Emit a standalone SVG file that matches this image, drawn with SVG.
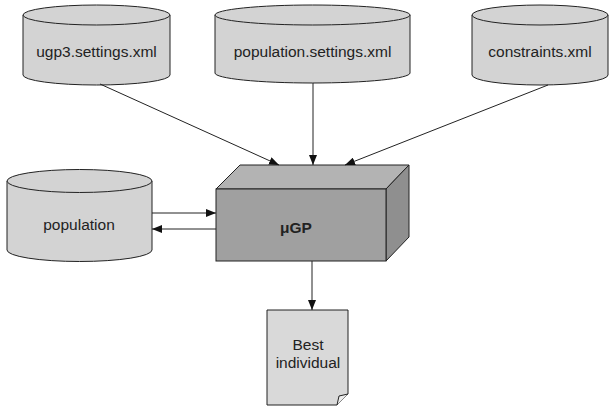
<svg xmlns="http://www.w3.org/2000/svg" width="610" height="408" viewBox="0 0 610 408">
  <defs>
    <style>
      .db { fill: #d3d3d3; stroke: #222; stroke-width: 1; }
      .lbl { font-family: "Liberation Sans", Arial, sans-serif; font-size: 15.5px; fill: #222; text-anchor: middle; }
      .edge { stroke: #222; stroke-width: 1; fill: none; marker-end: url(#arrow); }
    </style>
    <marker id="arrow" viewBox="0 0 10 8" refX="10" refY="4" markerWidth="10" markerHeight="8" markerUnits="userSpaceOnUse" orient="auto">
      <path d="M0,0 L10,4 L0,8 Z" fill="#111"/>
    </marker>
  </defs>
  <rect width="610" height="408" fill="#fff"/>

  <!-- settings store: ugp3.settings.xml -->
  <g id="ugp3-settings">
    <path class="db" d="M23,15 A73.5,10 0 0 1 170,15 L170,75 A73.5,10 0 0 1 23,75 Z"/>
    <path class="db" fill="none" d="M23,15 A73.5,10 0 0 0 170,15"/>
    <text class="lbl" x="96.5" y="57">ugp3.settings.xml</text>
  </g>

  <!-- settings store: population.settings.xml -->
  <g id="population-settings">
    <path class="db" d="M215,15 A97.5,10 0 0 1 410,15 L410,73 A97.5,10 0 0 1 215,73 Z"/>
    <path class="db" fill="none" d="M215,15 A97.5,10 0 0 0 410,15"/>
    <text class="lbl" x="312.5" y="57">population.settings.xml</text>
  </g>

  <!-- settings store: constraints.xml -->
  <g id="constraints">
    <path class="db" d="M472,15 A68,10 0 0 1 608,15 L608,75 A68,10 0 0 1 472,75 Z"/>
    <path class="db" fill="none" d="M472,15 A68,10 0 0 0 608,15"/>
    <text class="lbl" x="540" y="57">constraints.xml</text>
  </g>

  <!-- population store -->
  <g id="population">
    <path class="db" d="M7,181 A72.5,11.5 0 0 1 152,181 L152,250 A72.5,11.5 0 0 1 7,250 Z"/>
    <path class="db" fill="none" d="M7,181 A72.5,11.5 0 0 0 152,181"/>
    <text class="lbl" x="79" y="230">population</text>
  </g>

  <!-- engine block -->
  <g id="ugp">
    <polygon points="216,189 240,165 409,165 386,189" fill="#b3b3b3" stroke="#222" stroke-width="1"/>
    <polygon points="386,189 409,165 409,237 386,261" fill="#8f8f8f" stroke="#222" stroke-width="1"/>
    <rect x="216" y="189" width="170" height="72" fill="#a0a0a0" stroke="#222" stroke-width="1"/>
    <text class="lbl" x="296" y="233" font-weight="bold">μGP</text>
  </g>

  <!-- result document -->
  <g id="best-individual">
    <path d="M267,310 L348,310 L348,394 L337,405 L267,405 Z" fill="#d9d9d9" stroke="#222" stroke-width="1"/>
    <path d="M348,394 L339,396 L337,405" fill="#ececec" stroke="#222" stroke-width="1"/>
    <text class="lbl" x="308" y="350">Best</text>
    <text class="lbl" x="308" y="368">individual</text>
  </g>

  <!-- connectors -->
  <g id="connectors">
    <line class="edge" x1="100" y1="84" x2="279" y2="165"/>
    <line class="edge" x1="313" y1="83" x2="313" y2="165"/>
    <line class="edge" x1="548" y1="85" x2="345" y2="165"/>
    <line class="edge" x1="152" y1="213" x2="216" y2="213"/>
    <line class="edge" x1="216" y1="229" x2="152" y2="229"/>
    <line class="edge" x1="312" y1="261" x2="312" y2="310"/>
  </g>
</svg>
